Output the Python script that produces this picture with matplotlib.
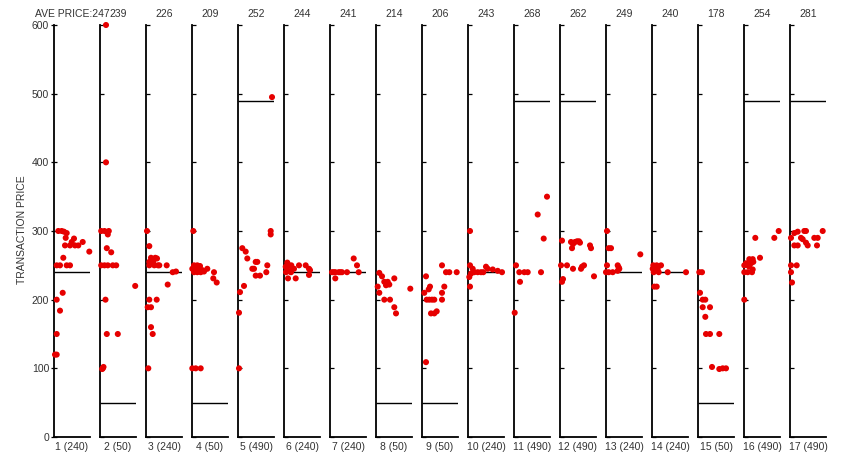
import matplotlib
matplotlib.use("Agg")
import matplotlib.pyplot as plt

plt.rcParams['font.family'] = ['Liberation Sans', 'DejaVu Sans']

ref_prices = [240, 50, 240, 50, 490, 240, 240, 50, 50, 240, 490, 490, 240, 240, 50, 490, 490]
ave_prices = [247, 239, 226, 209, 252, 244, 241, 214, 206, 243, 268, 262, 249, 240, 178, 254, 281]

# x: position of trade within the period (0..36), y: transaction price
p1_x = [4.3, 7.7, 10, 12.7, 11.7, 20, 17.7, 11, 16, 21, 24.3, 28.7, 35.3, 9.3, 2.7, 6, 12.7, 16, 8.7, 2.7, 6, 2.7, 2.7, 1]
p1_y = [300, 300, 299, 297, 290, 289, 284, 279, 279, 279, 279, 284, 270, 261, 250, 250, 250, 250, 210, 200, 184, 150, 120, 120]
p2_x = [1.2, 4.5, 8.8, 7.8, 6.8, 11.2, 1.2, 4.5, 7.8, 12.8, 16.2, 35.2, 5.5, 6.8, 17.8, 2.8, 3.5, 2.2, 6, 6]
p2_y = [300, 300, 300, 295, 275, 269, 250, 250, 250, 250, 250, 220, 200, 150, 150, 100, 102, 99, 400, 600]
p3_x = [1, 3.3, 5, 9.3, 3.3, 7.3, 3.3, 8.3, 13.3, 20.7, 30, 26.7, 21.7, 3.3, 10.7, 1.7, 5, 5, 6.7, 2.3, 11, 12]
p3_y = [300, 278, 261, 261, 255, 255, 250, 250, 250, 250, 241, 240, 222, 200, 200, 189, 189, 160, 150, 100, 260, 250]
p4_x = [1.3, 2, 5.3, 8, 0.3, 3.7, 7, 10.3, 12, 15.3, 2, 5.3, 8.7, 22, 21.3, 24.7, 0.3, 3.7, 8.7]
p4_y = [300, 250, 250, 249, 245, 245, 243, 243, 241, 245, 240, 240, 240, 240, 231, 225, 100, 100, 100]
p5_x = [32.7, 32.7, 4.3, 7.7, 9.3, 14.3, 16, 17.7, 19.3, 29.3, 17.7, 22, 28.3, 6, 2, 1, 1, 34]
p5_y = [300, 295, 275, 270, 260, 245, 245, 255, 255, 250, 235, 235, 240, 220, 211, 181, 100, 495]
p6_x = [3.3, 5, 1.7, 7.3, 8.3, 3.3, 6, 10, 15, 21.7, 25, 26, 25, 4, 11.7, 2, 7]
p6_y = [254, 250, 248, 250, 245, 243, 241, 245, 250, 250, 245, 243, 236, 231, 231, 240, 240]
p7_x = [2, 5.3, 8.7, 12, 17, 5.3, 23.7, 27, 28.7, 3.7, 10.3]
p7_y = [240, 240, 240, 240, 240, 231, 260, 250, 240, 240, 240]
p8_x = [3.3, 6, 1.7, 3.3, 8.3, 11.7, 13.3, 10, 18.3, 8.3, 14, 18.3, 20, 34.3]
p8_y = [239, 234, 219, 210, 226, 226, 222, 221, 231, 200, 200, 189, 180, 216]
p9_x = [4, 2.3, 6.7, 8, 4.7, 7.3, 10, 12.3, 9, 12.3, 14.7, 20, 22.3, 20, 20, 24, 27.3, 34.7, 4]
p9_y = [234, 210, 215, 219, 200, 200, 200, 200, 180, 180, 183, 250, 219, 210, 200, 240, 240, 240, 109]
p10_x = [2, 2, 4.7, 3, 1.3, 2, 6.3, 9.7, 15.3, 18, 19.7, 24.7, 29.7, 34, 13]
p10_y = [300, 250, 245, 238, 233, 219, 240, 240, 240, 248, 245, 244, 242, 240, 240]
p11_x = [2, 5.3, 10.3, 13.7, 27, 6, 0.7, 23.7, 29.7, 33]
p11_y = [250, 240, 240, 240, 240, 226, 181, 324, 289, 350]
p12_x = [2, 11, 13, 12, 15, 17, 19, 20, 30, 31, 1, 7, 13, 21, 24, 34, 3, 2, 22]
p12_y = [286, 284, 281, 275, 284, 285, 285, 283, 279, 275, 250, 250, 245, 245, 250, 234, 230, 226, 248]
p13_x = [1, 2.7, 5, 1, 11.7, 12.7, 2.7, 6.7, 11.7, 13.3, 34.3, 0]
p13_y = [300, 275, 275, 250, 250, 247, 240, 240, 242, 245, 266, 240]
p14_x = [1.3, 4.7, 9, 0.7, 5.7, 1.7, 6.7, 15.7, 34, 2.3, 4.7]
p14_y = [250, 250, 250, 245, 245, 240, 240, 240, 240, 219, 219]
p15_x = [1.3, 4, 2, 4.7, 7.3, 4.7, 12, 7.3, 8, 12, 21.3, 14, 21.3, 24.7, 28]
p15_y = [240, 240, 210, 200, 200, 189, 189, 175, 150, 150, 150, 102, 99, 100, 100]
p16_x = [0.3, 0.3, 3.7, 8, 0.3, 3.7, 7, 9.3, 5.3, 8.7, 16, 11.3, 30.3, 34.7, 2, 5.3, 8.7]
p16_y = [200, 240, 240, 240, 250, 250, 253, 255, 259, 259, 261, 290, 290, 300, 253, 248, 244]
p17_x = [1, 4.3, 7.7, 14.3, 16, 32.7, 11, 12.7, 4.3, 7.7, 16, 17.7, 24.3, 27.7, 27, 1, 6.7, 1, 2]
p17_y = [290, 297, 299, 300, 300, 300, 290, 288, 279, 279, 283, 279, 290, 290, 279, 250, 250, 240, 225]

xs = [p1_x, p2_x, p3_x, p4_x, p5_x, p6_x, p7_x, p8_x, p9_x, p10_x, p11_x, p12_x, p13_x, p14_x, p15_x, p16_x, p17_x]
ys = [p1_y, p2_y, p3_y, p4_y, p5_y, p6_y, p7_y, p8_y, p9_y, p10_y, p11_y, p12_y, p13_y, p14_y, p15_y, p16_y, p17_y]

W, H = 844, 458
fig = plt.figure(figsize=(W / 100, H / 100), dpi=100)
fig.patch.set_facecolor('white')

left0, step, pw = 54.0, 46.0, 36.0
top_px, bot_px = 25.0, 437.0
txt_color = '#333333'
fs = 7.5

for i in range(17):
    lx = left0 + step * i
    ax = fig.add_axes([lx / W, (H - bot_px) / H, pw / W, (bot_px - top_px) / H])
    ax.set_xlim(0, 36)
    ax.set_ylim(0, 600)
    ax.patch.set_alpha(0)
    for s in ('top', 'right'):
        ax.spines[s].set_visible(False)
    ax.spines['left'].set_linewidth(1.3)
    ax.spines['bottom'].set_linewidth(1.3)
    ax.set_xticks([])
    ax.set_yticks([0, 100, 200, 300, 400, 500, 600])
    if i == 0:
        ax.tick_params(axis='y', direction='inout', length=5, width=0.9,
                       labelsize=fs, labelcolor=txt_color, pad=1)
    else:
        ax.tick_params(axis='y', direction='in', length=3, width=0.9, labelleft=False)
    ax.plot([0, 36], [ref_prices[i], ref_prices[i]], color='black', lw=1.0,
            solid_capstyle='butt', zorder=2)
    ax.scatter(xs[i], ys[i], s=19, color='#e60000', edgecolors='none',
               zorder=3, clip_on=False)
    cx = (lx + pw / 2) / W
    fig.text(cx, 1 - 447 / H, f"{i + 1} ({ref_prices[i]})", ha='center', va='center',
             fontsize=fs, color=txt_color)
    top_txt = f"AVE PRICE:{ave_prices[i]}" if i == 0 else f"{ave_prices[i]}"
    fig.text(cx, 1 - 14 / H, top_txt, ha='center', va='center', fontsize=fs, color=txt_color)

fig.text(22 / W, 1 - 230 / H, "TRANSACTION PRICE", rotation=90, ha='center', va='center',
         fontsize=fs, color=txt_color)

fig.savefig("out.png", dpi=100)
